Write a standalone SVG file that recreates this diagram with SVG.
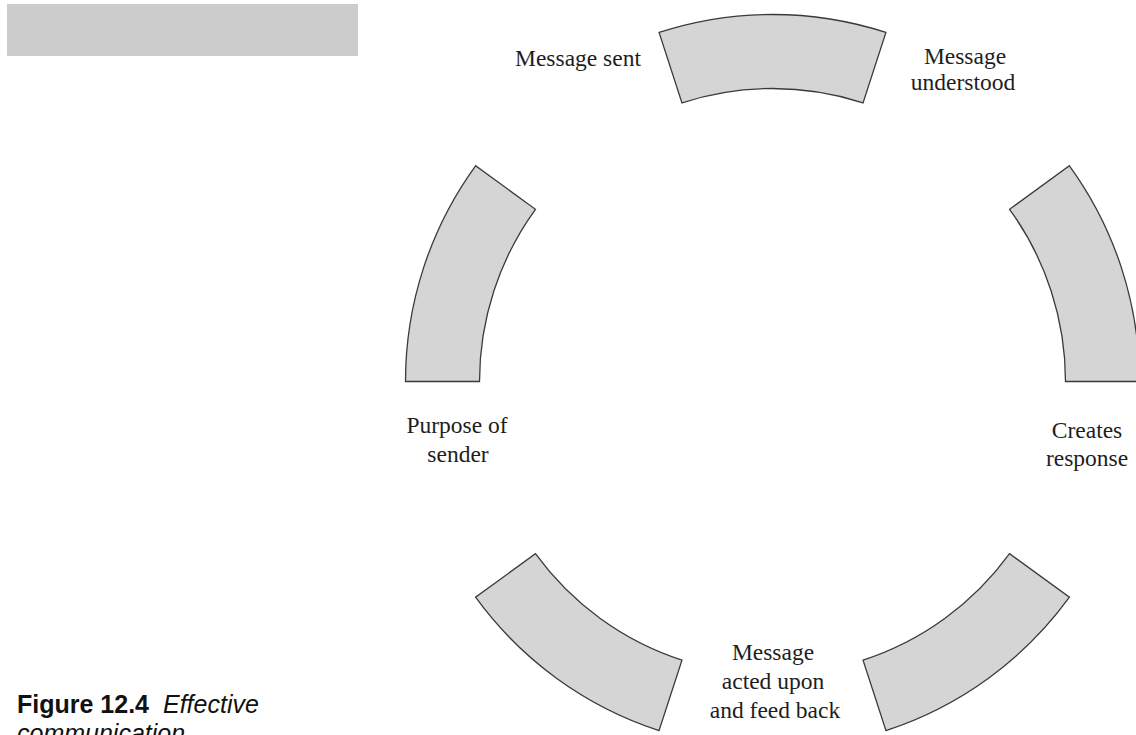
<svg xmlns="http://www.w3.org/2000/svg" width="1136" height="735" viewBox="0 0 1136 735">
<style>
.seg{fill:#d5d5d5;stroke:#3a3a3a;stroke-width:1.3;stroke-linejoin:miter}
.lbl{font-family:"Liberation Serif","Times New Roman",serif;font-size:23.5px;fill:#1e1e1e;text-anchor:middle}
.cap{font-family:"Liberation Sans",Arial,sans-serif;font-size:25px;fill:#111}
</style>
<rect width="1136" height="735" fill="#ffffff"/>
<rect id="header-bar" x="7" y="4" width="351" height="52" fill="#cccccc"/>
<g id="connectors"></g>
<g id="seg-top"><path class="seg" d="M659.09 32.46 A367 367 0 0 1 885.91 32.46 L863.04 102.84 A293 293 0 0 0 681.96 102.84 Z"/></g>
<g id="seg-left"><path class="seg" d="M405.5 381.5 A367 367 0 0 1 475.59 165.78 L535.46 209.28 A293 293 0 0 0 479.5 381.5 Z"/></g>
<g id="seg-bottom-left"><path class="seg" d="M659.09 730.54 A367 367 0 0 1 475.59 597.22 L535.46 553.72 A293 293 0 0 0 681.96 660.16 Z"/></g>
<g id="seg-bottom-right"><path class="seg" d="M1069.41 597.22 A367 367 0 0 1 885.91 730.54 L863.04 660.16 A293 293 0 0 0 1009.54 553.72 Z"/></g>
<g id="seg-right"><path class="seg" d="M1069.41 165.78 A367 367 0 0 1 1139.5 381.5 L1065.5 381.5 A293 293 0 0 0 1009.54 209.28 Z"/></g>
<g id="label-message-sent"><text class="lbl" x="578" y="66">Message sent</text></g>
<g id="label-message-understood"><text class="lbl" x="965" y="64">Message</text><text class="lbl" x="963" y="90">understood</text></g>
<g id="label-purpose"><text class="lbl" x="457" y="433">Purpose of</text><text class="lbl" x="458" y="462">sender</text></g>
<g id="label-creates"><text class="lbl" x="1087" y="438">Creates</text><text class="lbl" x="1087" y="466">response</text></g>
<g id="label-acted"><text class="lbl" x="773" y="660">Message</text><text class="lbl" x="773" y="689">acted upon</text><text class="lbl" x="775" y="718">and feed back</text></g>
<g id="caption"><text class="cap" y="713"><tspan x="17" font-weight="bold">Figure 12.4</tspan><tspan x="163" font-style="italic">Effective</tspan></text><text class="cap" x="17" y="742" font-style="italic">communication</text></g>
</svg>
